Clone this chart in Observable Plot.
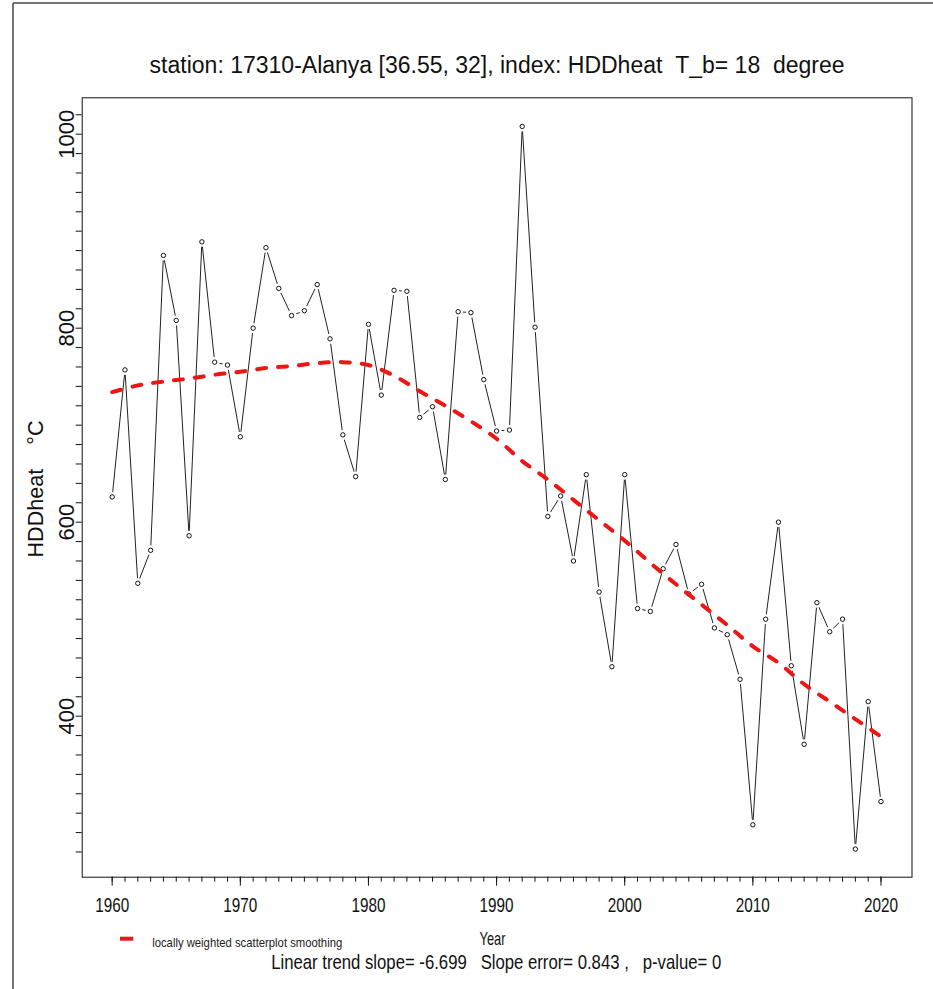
<!DOCTYPE html>
<html><head><meta charset="utf-8">
<script src="https://cdn.jsdelivr.net/npm/d3@7"></script>
<script src="https://cdn.jsdelivr.net/npm/@observablehq/plot@0.6"></script>
<style>
html,body{margin:0;padding:0;background:#fff;}
#chart{position:relative;width:933px;height:989px;overflow:hidden;}
</style></head><body><div id="chart"></div>
<script>
const years = [1960,1961,1962,1963,1964,1965,1966,1967,1968,1969,1970,1971,1972,1973,1974,1975,1976,1977,1978,1979,1980,1981,1982,1983,1984,1985,1986,1987,1988,1989,1990,1991,1992,1993,1994,1995,1996,1997,1998,1999,2000,2001,2002,2003,2004,2005,2006,2007,2008,2009,2010,2011,2012,2013,2014,2015,2016,2017,2018,2019,2020];
const hddValues = [626,757,537,571,875,808,586,889,765,762,688,800,883,841,813,818,845,789,690,647,804,731,839,838,708,719,644,817,816,747,694,695,1008,801,606,627,560,649,528,451,649,511,508,552,577,526,536,491,484,438,288,500,600,452,371,517,487,500,263,415,312];
const loessYears = [1960,1962,1964,1966,1968,1970,1972,1974,1976,1978,1980,1982,1984,1986,1988,1990,1992,1994,1996,1998,2000,2002,2004,2006,2008,2010,2012,2014,2016,2018,2020];
const loessValues = [734,741,745,748,752,755,759,761,764,765,762,751,735,720,704,686,663,644,623,602,581,558,536,515,494,472,455,433,415,397,379];
const xMajorTicks = [1960,1970,1980,1990,2000,2010,2020];
const yLabelTicks = [400,600,800,1000];
const yMinorTicks = [260,280,300,320,340,360,380,400,420,440,460,480,500,520,540,560,580,600,620,640,660,680,700,720,740,760,780,800,820,840,860,880,900,920,940,960,980,1000,1020];
const titleText = "station: 17310-Alanya [36.55, 32], index: HDDheat\u00a0\u00a0T_b= 18\u00a0\u00a0degree";
const yTitle = "HDDheat\u00a0\u00a0\u00a0\u00a0°C";
const xTitle = "Year";
const legendText = "locally weighted scatterplot smoothing";
const trendText = "Linear trend slope= -6.699\u00a0\u00a0\u00a0Slope error= 0.843 ,\u00a0\u00a0\u00a0p-value= 0";

const series = years.map((y, i) => ({year: y, value: hddValues[i]}));
const smooth = loessYears.map((y, i) => ({year: y, value: loessValues[i]}));

const red = "#ee1515";
const chart = Plot.plot({
  width: 933, height: 989,
  marginTop: 97.3, marginLeft: 81.7, marginRight: 21.5, marginBottom: 112.3,
  style: {fontFamily: "'Liberation Sans', Arial, sans-serif", background: "white", color: "#111"},
  x: {domain: [1957.66, 2022.42], label: null},
  y: {domain: [234.0, 1037.5], label: null},
  marks: [
    Plot.line(series, {x: "year", y: "value", stroke: "#222", strokeWidth: 1}),
    Plot.dot(series, {x: "year", y: "value", r: 5, fill: "white", stroke: null}),
    Plot.dot(series, {x: "year", y: "value", r: 2.2, fill: "white", stroke: "#111", strokeWidth: 1}),
    Plot.line(smooth, {x: "year", y: "value", stroke: red, strokeWidth: 4, strokeDasharray: "9,12", strokeLinecap: "round", curve: "catmull-rom"}),
    Plot.frame({stroke: "#111", strokeWidth: 1}),
    Plot.axisX({ticks: years, tickSize: 5, tickFormat: () => ""}),
    Plot.axisX({ticks: xMajorTicks, tickSize: 9, tickPadding: 11, fontSize: 21, tickFormat: d => String(d)}),
    Plot.axisY({ticks: yMinorTicks, tickSize: 6, tickFormat: () => ""}),
    Plot.text(yLabelTicks, {y: d => d, text: d => String(d), frameAnchor: "left", dx: -8, rotate: -90, textAnchor: "middle", lineAnchor: "bottom", fontSize: 22, fill: "#111"}),
    Plot.text([yTitle], {text: d => d, frameAnchor: "left", dx: -38.7, dy: 1.5, rotate: -90, textAnchor: "middle", lineAnchor: "bottom", fontSize: 22, fill: "#111"}),
    Plot.text([titleText], {text: d => d, frameAnchor: "top", dy: -25.3, textAnchor: "middle", lineAnchor: "bottom", fontSize: 23, fill: "#111"}),
    Plot.text([xTitle], {text: d => d, frameAnchor: "bottom", dx: -4.6, dy: 67.3, textAnchor: "middle", lineAnchor: "bottom", fontSize: 18.5, fill: "#111"}),
    Plot.text([trendText], {text: d => d, frameAnchor: "bottom", dx: -0.9, dy: 91.3, textAnchor: "middle", lineAnchor: "bottom", fontSize: 21, fill: "#111"}),
    Plot.text([legendText], {text: d => d, frameAnchor: "bottom-left", dx: 70, dy: 69.3, textAnchor: "start", lineAnchor: "bottom", fontSize: 13.5, fill: "#222"})
  ]
});
document.getElementById("chart").appendChild(chart);

// fit condensed text widths as in the reference
const fits = new Map([[titleText, 695], [yTitle, 137], [trendText, 450], [xTitle, 26], [legendText, 190]]);
xMajorTicks.forEach(t => fits.set(String(t), 34));
d3.select(chart).selectAll("text").each(function() {
  const s = this.textContent;
  if (fits.has(s)) {
    this.setAttribute("textLength", fits.get(s));
    this.setAttribute("lengthAdjust", "spacingAndGlyphs");
  }
});
// legend swatch and outer border
const svg = d3.select(chart);
svg.append("line").attr("x1", 120).attr("x2", 133.3).attr("y1", 938.7).attr("y2", 938.7)
  .attr("stroke", red).attr("stroke-width", 4);
svg.append("line").attr("x1", 13).attr("x2", 13).attr("y1", 3).attr("y2", 989).attr("stroke", "#444").attr("stroke-width", 1.5);
svg.append("line").attr("x1", 13).attr("x2", 933).attr("y1", 3).attr("y2", 3).attr("stroke", "#444").attr("stroke-width", 1.5);
</script></body></html>
